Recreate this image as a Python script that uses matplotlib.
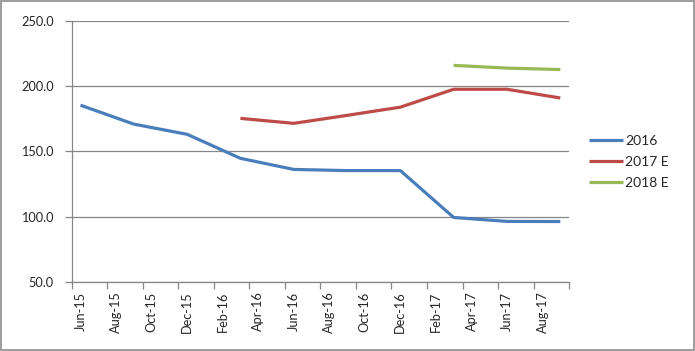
import matplotlib.pyplot as plt
from matplotlib.patches import Rectangle

# month labels shown every second month, Jun-15 .. Aug-17
labels = ['Jun-15', 'Aug-15', 'Oct-15', 'Dec-15', 'Feb-16', 'Apr-16', 'Jun-16',
          'Aug-16', 'Oct-16', 'Dec-16', 'Feb-17', 'Apr-17', 'Jun-17', 'Aug-17']

# quarterly points, x = months since Jun-15
m_2016 = [0, 3, 6, 9, 12, 15, 18, 21, 24, 27]
v_2016 = [185.3, 170.8, 163.0, 144.6, 136.1, 135.2, 135.2, 99.3, 96.3, 96.2]

m_2017 = [9, 12, 15, 18, 21, 24, 27]
v_2017 = [175.2, 171.4, 177.5, 183.8, 197.5, 197.5, 190.8]

m_2018 = [21, 24, 27]
v_2018 = [215.8, 213.7, 212.6]

plt.rcParams['font.family'] = ['Lato', 'DejaVu Sans']

fig = plt.figure(figsize=(6.95, 3.51), dpi=100)
ax = fig.add_axes([0.103, 0.197, 0.716, 0.744])

ax.plot(m_2016, v_2016, color='#4A7EBB', lw=2.3, label='2016', solid_capstyle='butt')
ax.plot(m_2017, v_2017, color='#BE4B48', lw=2.3, label='2017 E', solid_capstyle='butt')
ax.plot(m_2018, v_2018, color='#98B954', lw=2.3, label='2018 E', solid_capstyle='butt')

ax.set_xlim(-0.5, 27.5)
ax.set_ylim(50, 250)
ax.set_yticks(range(50, 251, 50))
ax.set_yticklabels(['%.1f' % v for v in range(50, 251, 50)])
ax.yaxis.grid(True, color='#868686', lw=0.9)
ax.set_axisbelow(True)

# labels sit on month centres, tick marks on month boundaries
ax.set_xticks(range(0, 27, 2))
ax.set_xticklabels(labels, rotation=90)
ax.set_xticks([x - 0.5 for x in range(0, 29, 2)], minor=True)
ax.tick_params(axis='x', which='major', length=0, pad=7)
ax.tick_params(axis='x', which='minor', length=5, color='#868686', width=0.9)
ax.tick_params(axis='y', length=5, color='#868686', width=0.9, pad=8)
ax.tick_params(labelsize=9.2, labelcolor='#262626')

for s in ['top', 'right']:
    ax.spines[s].set_visible(False)
for s in ['left', 'bottom']:
    ax.spines[s].set_color('#868686')
    ax.spines[s].set_linewidth(0.9)

leg = ax.legend(loc='center left', bbox_to_anchor=(0.847, 0.538),
                bbox_transform=fig.transFigure, frameon=False, borderpad=0,
                borderaxespad=0, fontsize=10, handlelength=2.5,
                handletextpad=0.15, labelspacing=0.65)
for t in leg.get_texts():
    t.set_color('#262626')

fig.patches.append(Rectangle((0.002, 0.003), 0.996, 0.994, transform=fig.transFigure,
                             fill=False, edgecolor='#8c8c8c', lw=1.2))

fig.savefig('out.png', dpi=100)
